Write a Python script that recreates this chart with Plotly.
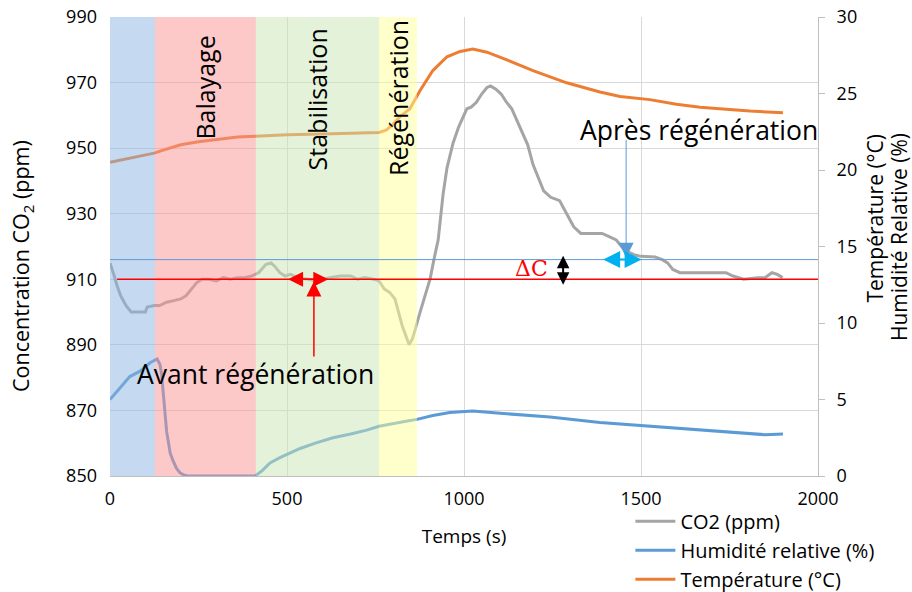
import plotly.graph_objects as go

# --- CO2 concentration (ppm), left axis ---
co2_t = [0, 5, 12, 20, 30, 45, 60, 80, 100, 105, 125, 140, 160, 180, 200, 215, 230, 245, 260,
         280, 300, 320, 340, 360, 380, 400, 420, 440, 455, 465, 480, 495, 510, 530, 560, 580,
         600, 620, 650, 680, 700, 720, 745, 760, 775, 790, 805, 815, 825, 835, 845, 855, 865,
         876, 890, 904, 915, 927, 935, 941, 952, 969, 985, 997, 1008, 1020, 1035, 1050, 1065,
         1075, 1090, 1105, 1120, 1135, 1150, 1165, 1180, 1195, 1210, 1225, 1245, 1270, 1290,
         1310, 1330, 1360, 1390, 1410, 1430, 1445, 1460, 1480, 1500, 1540, 1560, 1575, 1590,
         1610, 1650, 1700, 1740, 1760, 1790, 1830, 1850, 1870, 1885, 1900]
co2_ppm = [915, 913, 911, 908, 905, 902, 900, 900, 900, 901.5, 902, 902, 903, 903.5, 904, 905,
           907, 909, 910, 910, 909.5, 910.5, 910, 910.5, 910.5, 911, 912, 914.5, 915, 914, 912,
           911, 911.5, 910.5, 910, 909.5, 910, 910.5, 911, 911, 910, 910.5, 910, 909.5, 907,
           906, 904, 900, 896, 893, 890, 892, 896, 900, 905, 910, 916, 922, 930, 936, 944,
           951.5, 956.5, 959.5, 962, 962.5, 964, 966.5, 968.5, 969, 968, 966.5, 964, 962,
           958.5, 955, 951, 945, 941, 937, 935, 934, 930, 926, 924, 924, 924, 923, 922, 920,
           918.5, 917.5, 917, 916.8, 916, 915, 913, 912, 912, 912, 912, 911, 910, 910.5,
           910.5, 912, 911.5, 910.5]

# --- Relative humidity (%), right axis ---
rh_t = [0, 15, 28, 56, 85, 113, 133, 141, 146, 150, 155, 160, 164, 170, 178, 188, 198, 210,
        220, 300, 410, 430, 452, 480, 508, 537, 580, 630, 680, 725, 760, 800, 840, 867, 912,
        960, 1025, 1102, 1243, 1384, 1497, 1600, 1667, 1760, 1850, 1901]
rh_pct = [5.0, 5.4, 5.8, 6.5, 6.85, 7.4, 7.65, 7.3, 6.6, 5.6, 3.9, 2.9, 2.35, 1.5, 1.0, 0.5,
          0.2, 0.05, 0, 0, 0, 0.35, 0.85, 1.2, 1.5, 1.8, 2.15, 2.5, 2.75, 3.0, 3.25, 3.45, 3.6,
          3.7, 3.95, 4.15, 4.25, 4.1, 3.85, 3.5, 3.3, 3.1, 3.0, 2.85, 2.7, 2.75]

# --- Temperature (°C), right axis ---
temp_t = [0, 50, 100, 125, 150, 200, 250, 300, 360, 410, 500, 600, 700, 760, 780, 800, 820,
          847, 876, 912, 952, 989, 1025, 1065, 1121, 1195, 1290, 1384, 1441, 1525, 1600, 1667,
          1750, 1808, 1901]
temp_c = [20.5, 20.75, 21.0, 21.1, 21.3, 21.65, 21.85, 22.0, 22.15, 22.2, 22.3, 22.35, 22.4,
          22.45, 22.6, 23.0, 23.5, 24.0, 25.2, 26.5, 27.4, 27.75, 27.9, 27.7, 27.2, 26.5, 25.7,
          25.1, 24.8, 24.6, 24.3, 24.1, 23.95, 23.85, 23.75]

# --- Test phases (start, end, label, fill colour, label height in ppm) ---
phase_start = [0, 127, 412, 760]
phase_end = [127, 412, 760, 867]
phase_label = ["", "Balayage", "Stabilisation", "Régénération"]
phase_color = ["#8BB3E1", "#F99191", "#C9E5B5", "#FFFF99"]
phase_label_y = [968, 968.6, 965, 965.3]

# Reference levels (ppm)
level_before = 910
level_after = 916

FONT = "Open Sans"

fig = go.Figure()
fig.add_trace(go.Scatter(x=co2_t, y=co2_ppm, name="CO2 (ppm)", mode="lines",
                         line=dict(color="#A5A5A5", width=3)))
fig.add_trace(go.Scatter(x=rh_t, y=rh_pct, name="Humidité relative (%)", mode="lines",
                         line=dict(color="#5B9BD5", width=3), yaxis="y2"))
fig.add_trace(go.Scatter(x=temp_t, y=temp_c, name="Température (°C)", mode="lines",
                         line=dict(color="#ED7D31", width=3), yaxis="y2"))

shapes = []
for x0, x1, col in zip(phase_start, phase_end, phase_color):
    shapes.append(dict(type="rect", xref="x", yref="paper", x0=x0, x1=x1, y0=0, y1=1,
                       fillcolor=col, opacity=0.5, line=dict(width=0), layer="above"))
# level lines
shapes.append(dict(type="line", xref="x", yref="y", x0=0, x1=2000, y0=level_after,
                   y1=level_after, line=dict(color="#5B9BD5", width=1), layer="above"))
shapes.append(dict(type="line", xref="x", yref="y", x0=20, x1=2000, y0=level_before,
                   y1=level_before, line=dict(color="#FF0000", width=1.5), layer="above"))

annotations = []
for x0, x1, lab, yy in zip(phase_start, phase_end, phase_label, phase_label_y):
    if lab:
        annotations.append(dict(x=(x0 + x1) / 2, y=yy, xref="x", yref="y", text=lab,
                                textangle=-90, showarrow=False,
                                xanchor="center", yanchor="middle",
                                font=dict(family=FONT, size=25, color="#000000")))

# "Avant régénération" markers
annotations.append(dict(x=503, y=level_before, ax=621, ay=level_before, xref="x", yref="y",
                        axref="x", ayref="y", text="", showarrow=True, arrowhead=2,
                        startarrowhead=2, arrowside="end+start", arrowsize=2,
                        startarrowsize=2, arrowwidth=1.5, arrowcolor="#FF0000"))
annotations.append(dict(x=576, y=909.3, ax=576, ay=886, xref="x", yref="y", axref="x",
                        ayref="y", text="", showarrow=True, arrowhead=2, arrowsize=2,
                        arrowwidth=1.5, arrowcolor="#FF0000"))
annotations.append(dict(x=410, y=881, xref="x", yref="y", text="Avant régénération",
                        showarrow=False, font=dict(family=FONT, size=26.5, color="#000000")))

# "Après régénération" markers
annotations.append(dict(x=1458, y=916.6, ax=1458, ay=953, xref="x", yref="y", axref="x",
                        ayref="y", text="", showarrow=True, arrowhead=2, arrowsize=3,
                        arrowwidth=1, arrowcolor="#5B9BD5"))
annotations.append(dict(x=1393, y=level_after, ax=1506, ay=level_after, xref="x", yref="y",
                        axref="x", ayref="y", text="", showarrow=True, arrowhead=2,
                        startarrowhead=2, arrowside="end+start", arrowsize=1.7,
                        startarrowsize=1.7, arrowwidth=2, arrowcolor="#00B0F0"))
annotations.append(dict(x=1664, y=955.5, xref="x", yref="y", text="Après régénération",
                        showarrow=False, font=dict(family=FONT, size=26.5, color="#000000")))

# Delta C
annotations.append(dict(x=1280, y=908.3, ax=1280, ay=917.6, xref="x", yref="y", axref="x",
                        ayref="y", text="", showarrow=True, arrowhead=2, startarrowhead=2,
                        arrowside="end+start", arrowsize=1.25, startarrowsize=1.25,
                        arrowwidth=2, arrowcolor="#000000"))
annotations.append(dict(x=1190, y=913.2, xref="x", yref="y", text="ΔC", showarrow=False,
                        font=dict(family="DejaVu Serif", size=22, color="#FF0000")))

# axis titles
annotations.append(dict(x=-0.124, y=0.458, xref="paper", yref="paper",
                        xanchor="center", yanchor="middle",
                        text="Concentration CO<sub>2</sub> (ppm)", textangle=-90,
                        showarrow=False, font=dict(family=FONT, size=21.5, color="#000000")))
right_titles = ["Température (°C)", "Humidité Relative (%)"]
right_title_x = [1.0805, 1.1144]
for txt, xx in zip(right_titles, right_title_x):
    annotations.append(dict(x=xx, y=0.7516, xref="paper", yref="paper",
                            xanchor="center", yanchor="top", text=txt, textangle=-90,
                            showarrow=False, font=dict(family=FONT, size=21,
                                                       color="#000000")))

fig.update_layout(
    width=912, height=592,
    margin=dict(l=110, r=94, t=17, b=116, autoexpand=False),
    paper_bgcolor="white", plot_bgcolor="white",
    font=dict(family=FONT, size=18, color="#000000"),
    shapes=shapes, annotations=annotations,
    showlegend=True,
    legend=dict(x=0.735, y=-0.056, xanchor="left", yanchor="top",
                font=dict(family=FONT, size=20), bgcolor="rgba(0,0,0,0)",
                tracegroupgap=0, itemwidth=40),
    xaxis=dict(range=[0, 2000], dtick=500, showgrid=True, gridcolor="#D9D9D9",
               showline=True, linecolor="#BFBFBF", zeroline=False, ticks="",
               ticklabelstandoff=6,
               title=dict(text="Temps (s)", font=dict(size=19), standoff=21),
               tickfont=dict(size=18)),
    yaxis=dict(range=[850, 990], tick0=850, dtick=20, showgrid=True, gridcolor="#D9D9D9",
               zeroline=False, showline=False, ticks="", tickfont=dict(size=18),
               ticklabelstandoff=12),
    yaxis2=dict(range=[0, 30], dtick=5, overlaying="y", side="right", showgrid=False,
                zeroline=False, showline=True, linecolor="#BFBFBF", ticks="outside",
                ticklen=6, tickcolor="#BFBFBF", tickfont=dict(size=18),
                ticklabelstandoff=8),
)

fig.write_html("out.html")
